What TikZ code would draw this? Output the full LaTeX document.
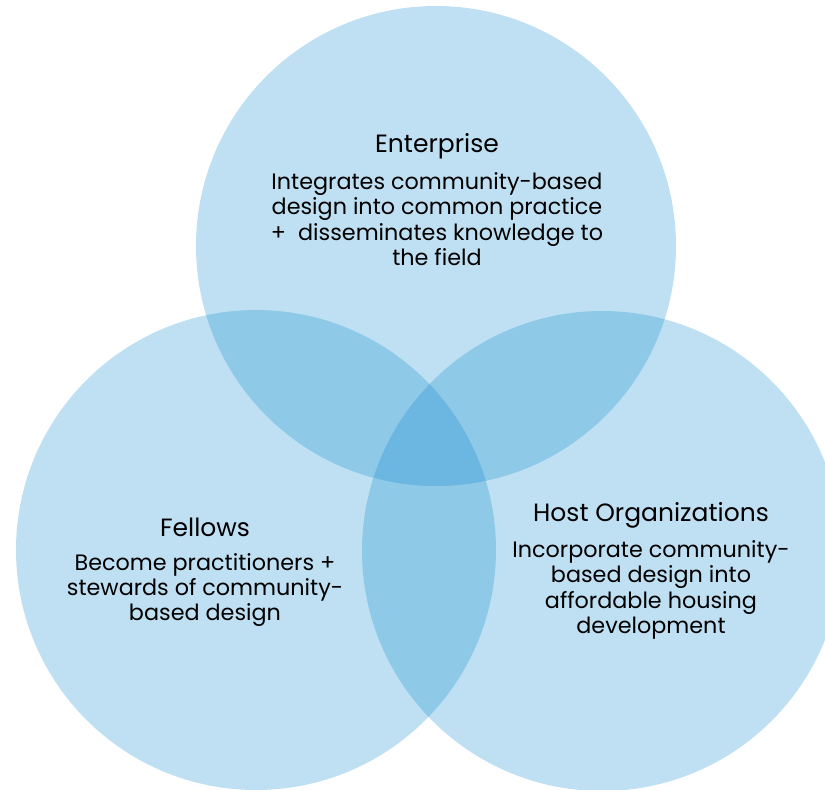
\documentclass[tikz,border=0pt]{standalone}
\usepackage{fontspec}
\setmainfont{Poppins}
\usepackage{tikz}
\usetikzlibrary{positioning}
\definecolor{vennblue}{RGB}{0,131,203}

\begin{document}
\begin{tikzpicture}[x=1pt,y=-1pt,
    venn/.style={circle,minimum size=480pt,inner sep=0pt,fill=vennblue,fill opacity=0.25},
    head/.style={font=\fontsize{25}{28}\selectfont},
    body/.style={align=center,font=\fontsize{22.3}{25.3}\selectfont}]
    \useasboundingbox (0,0) rectangle (825,790);
    \clip (0,0) rectangle (825,790);
    % circles
    \node[venn] at (436,246) (ent) {};
    \node[venn] at (256,550) (fel) {};
    \node[venn] at (602,551) (host) {};
    % Enterprise
    \node[head] at (437,146) (enttitle) {Enterprise};
    \node[body] at (437,219) (enttext) {Integrates community-based\\design into common practice\\+\ \ disseminates knowledge to\\the field};
    % Fellows
    \node[head] at (205,527) (feltitle) {Fellows};
    \node[body] at (205,590) (feltext) {Become practitioners +\\stewards of community-\\based design};
    % Host Organizations
    \node[head] at (651,515) (hosttitle) {Host Organizations};
    \node[body] at (651,590) (hosttext) {Incorporate community-\\based design into\\affordable housing\\development};
\end{tikzpicture}
\end{document}
